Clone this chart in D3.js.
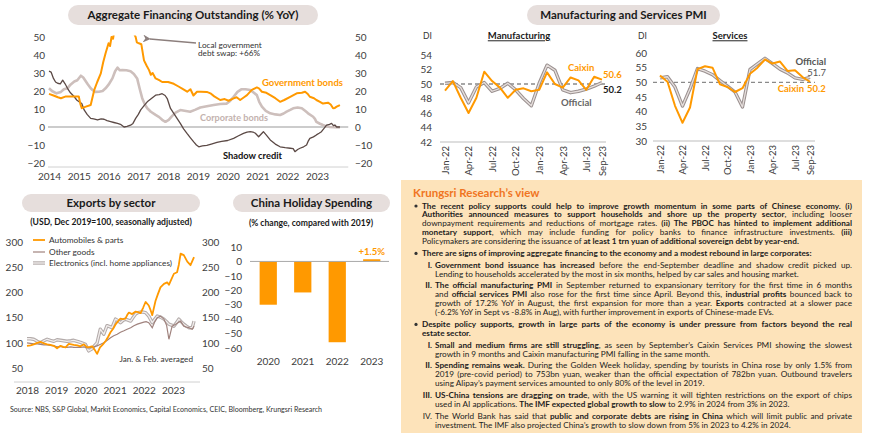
<!DOCTYPE html>
<html>
<head>
<meta charset="utf-8">
<script src="https://cdn.jsdelivr.net/npm/d3@7"></script>
<style>
body{margin:0;background:#fff;}
svg{font-family:Lato,"Open Sans",sans-serif;}
</style>
</head>
<body>
<svg id="chart" width="870" height="440"></svg>
<script>
var FONT = "Lato, 'Open Sans', sans-serif";
var ORANGE = "#ff9900";

// ---- Aggregate financing (% YoY), [year, value]
var aggYears = [2014, 2015, 2016, 2017, 2018, 2019, 2020, 2021, 2022, 2023];
var aggTicks = [-20, -10, 0, 10, 20, 30, 40, 50];
var govBonds = [[2014.0,18.4],[2014.15,17.5],[2014.3,16.5],[2014.4,16],[2014.57,17],[2014.8,17],[2015.0,17],[2015.05,13],[2015.1,10.5],[2015.24,11.3],[2015.4,12.2],[2015.52,20.6],[2015.62,25],[2015.74,29.8],[2015.82,36],[2015.9,41],[2016.0,46.5],[2016.05,45],[2016.1,50],[2016.15,49],[2016.2,54],[2016.4,64],[2016.55,66],[2016.7,62],[2016.85,52],[2016.91,50],[2016.95,47],[2017.02,46.5],[2017.1,46],[2017.19,37],[2017.28,34],[2017.36,31.6],[2017.42,29],[2017.48,30],[2017.58,27],[2017.7,26],[2017.8,25],[2018.0,25],[2018.19,24],[2018.35,22.5],[2018.5,21],[2018.64,19.6],[2018.75,21],[2018.85,17.5],[2018.97,19.6],[2019.1,19.6],[2019.3,19.5],[2019.42,18.7],[2019.55,17],[2019.75,15],[2019.9,15.5],[2020.03,14.6],[2020.2,15.9],[2020.3,16.5],[2020.42,15],[2020.55,16.5],[2020.65,17.7],[2020.81,20.6],[2020.98,22],[2021.05,21.5],[2021.15,19.6],[2021.3,19],[2021.43,17.7],[2021.6,16],[2021.76,14],[2021.9,15],[2022.1,16.8],[2022.32,18.7],[2022.49,19],[2022.6,19.6],[2022.68,18.5],[2022.76,16.8],[2022.9,16],[2022.98,15],[2023.1,14],[2023.2,13],[2023.37,13.5],[2023.46,12.5],[2023.54,10.4],[2023.6,10.6],[2023.66,11.3],[2023.77,12.2]];
var corpBonds = [[2014.0,21.5],[2014.1,20],[2014.25,18.7],[2014.4,19.5],[2014.5,21],[2014.62,21.5],[2014.72,23.5],[2014.85,25.3],[2014.95,26],[2015.07,28.5],[2015.15,27.5],[2015.29,24],[2015.4,21.5],[2015.46,20.6],[2015.55,19.5],[2015.68,19.6],[2015.8,20],[2015.9,21.5],[2016.0,23.5],[2016.13,27],[2016.22,31],[2016.3,33],[2016.38,31.5],[2016.46,31.6],[2016.6,31.5],[2016.74,31],[2016.85,29.5],[2016.96,27],[2017.05,21],[2017.13,16],[2017.22,12.5],[2017.3,10.4],[2017.42,8.5],[2017.58,6.7],[2017.7,5.5],[2017.8,4],[2017.91,2.9],[2018.02,4],[2018.13,6],[2018.25,8],[2018.41,9.4],[2018.55,9],[2018.74,8.5],[2018.9,9.5],[2019.08,10.8],[2019.3,11.5],[2019.53,12.2],[2019.75,12.8],[2019.97,13],[2020.08,14.5],[2020.2,16.8],[2020.33,19.5],[2020.47,21],[2020.6,21],[2020.76,20.6],[2020.88,19],[2020.98,17.7],[2021.06,14],[2021.15,11.3],[2021.28,9],[2021.43,7.6],[2021.6,7],[2021.76,6.7],[2021.88,7.5],[2021.98,8.5],[2022.1,9.5],[2022.2,10.4],[2022.35,10.8],[2022.49,10.4],[2022.6,9],[2022.7,7.6],[2022.87,5.7],[2022.93,4.5],[2022.98,2.9],[2023.1,1.8],[2023.2,1.1],[2023.3,0.5],[2023.43,0],[2023.6,-0.1],[2023.77,-0.2]];
var shadowCredit = [[2014.0,31],[2014.07,30.5],[2014.15,27],[2014.22,25],[2014.29,24.3],[2014.38,24],[2014.46,26],[2014.54,24],[2014.62,21.5],[2014.72,19],[2014.85,16.8],[2014.93,15],[2015.01,14],[2015.1,13],[2015.18,9.5],[2015.28,7],[2015.4,4.8],[2015.5,4.5],[2015.63,3.9],[2015.75,4.5],[2015.85,4.3],[2015.95,3.5],[2016.07,3],[2016.18,2.5],[2016.3,2],[2016.4,1.5],[2016.52,0],[2016.62,0.3],[2016.74,1],[2016.82,2],[2016.91,4.8],[2017.0,7],[2017.08,9.5],[2017.2,12],[2017.3,14],[2017.45,16],[2017.58,17.7],[2017.7,18],[2017.8,18.5],[2017.9,17.5],[2017.97,15.8],[2018.08,10.3],[2018.25,6],[2018.41,2],[2018.52,-1],[2018.64,-3.7],[2018.75,-6],[2018.86,-8.3],[2018.95,-10],[2019.03,-11],[2019.15,-10.5],[2019.3,-10.2],[2019.45,-9.5],[2019.64,-8.6],[2019.8,-8],[2020.0,-7.5],[2020.2,-6.3],[2020.35,-5],[2020.53,-3.5],[2020.65,-2.8],[2020.76,-2.6],[2020.85,-2.8],[2020.93,-3.5],[2021.04,-5.4],[2021.12,-4],[2021.2,-2.6],[2021.3,-4.5],[2021.43,-7.2],[2021.6,-9.5],[2021.76,-11],[2021.93,-11.5],[2022.1,-11.8],[2022.2,-12],[2022.26,-13.7],[2022.35,-12.5],[2022.43,-11.8],[2022.55,-11],[2022.65,-10],[2022.7,-8],[2022.76,-6.3],[2022.88,-5.5],[2022.98,-4.4],[2023.07,-3.5],[2023.15,-2.6],[2023.25,-0.5],[2023.32,1.1],[2023.42,1.5],[2023.49,2],[2023.55,0.8],[2023.6,1.1],[2023.66,0],[2023.77,0]];

// ---- PMI (DI), Jan-22 .. Sep-23
var pmiMonths = ["Jan-22","Feb-22","Mar-22","Apr-22","May-22","Jun-22","Jul-22","Aug-22","Sep-22","Oct-22","Nov-22","Dec-22","Jan-23","Feb-23","Mar-23","Apr-23","May-23","Jun-23","Jul-23","Aug-23","Sep-23"];
var pmiTicks = ["Jan-22","Apr-22","Jul-22","Oct-22","Jan-23","Apr-23","Jul-23","Sep-23"];
var mfgCaixin   = [49.1,50.4,48.1,46.0,48.1,51.7,50.4,49.5,48.1,49.2,49.4,49.0,49.2,51.6,50.0,49.5,50.9,50.5,49.2,51.0,50.6];
var mfgOfficial = [50.1,50.2,49.5,47.4,49.6,50.2,49.0,49.4,50.1,49.2,48.0,47.0,50.1,52.6,51.9,49.2,48.8,49.0,49.3,49.7,50.2];
var svcCaixin   = [52.3,50.2,42.0,36.2,41.4,54.5,55.5,55.0,49.3,48.4,46.7,48.0,52.9,55.0,57.8,56.4,57.1,53.9,54.1,51.8,50.2];
var svcOfficial = [51.5,51.9,48.4,41.9,47.8,54.7,53.8,52.6,50.6,48.7,46.7,41.6,54.4,56.3,58.2,56.4,54.5,53.2,51.5,51.0,51.7];
var mfgTicks = [42,44,46,48,50,52,54];
var svcTicks = [30,35,40,45,50,55,60];

// ---- Exports by sector (USD, Dec 2019=100), [year, index]
var expYears = [2018, 2019, 2020, 2021, 2022, 2023];
var expTicks = [50, 100, 150, 200, 250, 300];
var autoParts = [[2018.0,94],[2018.12,95],[2018.23,97],[2018.35,100],[2018.46,102],[2018.58,99],[2018.69,97],[2018.8,96],[2018.92,94],[2019.03,89],[2019.15,94],[2019.24,92],[2019.32,91],[2019.43,98],[2019.52,97],[2019.6,96],[2019.72,95],[2019.83,93],[2019.95,97],[2020.06,91],[2020.15,92],[2020.23,93],[2020.32,86],[2020.4,78],[2020.5,91],[2020.6,97],[2020.7,104],[2020.78,112],[2020.86,121],[2020.95,128],[2021.04,137],[2021.12,143],[2021.2,148],[2021.28,147],[2021.37,148],[2021.43,155],[2021.49,160],[2021.6,157],[2021.72,162],[2021.8,161],[2021.89,159],[2021.98,170],[2022.06,181],[2022.17,174],[2022.23,165],[2022.29,155],[2022.4,183],[2022.48,196],[2022.57,210],[2022.69,217],[2022.8,220],[2022.86,215],[2022.92,223],[2023.03,237],[2023.14,240],[2023.2,255],[2023.26,277],[2023.37,274],[2023.49,261],[2023.6,254],[2023.72,270]];
var otherGoods = [[2018.0,100],[2018.12,99],[2018.23,98],[2018.35,98],[2018.46,97],[2018.58,96],[2018.69,96],[2018.8,95],[2018.92,94],[2019.03,92],[2019.15,93],[2019.26,91],[2019.37,91],[2019.5,92],[2019.6,91],[2019.72,91],[2019.83,91],[2019.95,92],[2020.06,90],[2020.17,91],[2020.28,92],[2020.4,94],[2020.52,97],[2020.63,100],[2020.75,105],[2020.86,110],[2020.97,114],[2021.09,117],[2021.2,121],[2021.32,124],[2021.43,127],[2021.55,130],[2021.66,134],[2021.78,137],[2021.89,139],[2022.0,141],[2022.08,142],[2022.17,140],[2022.29,130],[2022.38,142],[2022.46,150],[2022.57,153],[2022.69,147],[2022.78,135],[2022.86,107],[2022.97,133],[2023.09,137],[2023.17,140],[2023.26,143],[2023.37,133],[2023.46,131],[2023.54,130],[2023.66,127],[2023.72,133]];
var electronics = [[2018.0,108],[2018.12,108],[2018.23,107],[2018.35,103],[2018.46,100],[2018.58,104],[2018.69,107],[2018.8,105],[2018.92,103],[2019.03,106],[2019.15,105],[2019.26,104],[2019.37,103],[2019.5,104],[2019.6,105],[2019.72,103],[2019.83,101],[2019.92,99],[2020.0,97],[2020.11,84],[2020.23,88],[2020.32,95],[2020.4,100],[2020.51,127],[2020.63,117],[2020.74,134],[2020.83,132],[2020.91,130],[2021.03,147],[2021.12,144],[2021.2,140],[2021.3,145],[2021.37,147],[2021.46,145],[2021.55,143],[2021.63,150],[2021.72,157],[2021.8,160],[2021.89,161],[2021.98,161],[2022.06,160],[2022.17,153],[2022.29,140],[2022.38,147],[2022.46,153],[2022.57,151],[2022.69,147],[2022.78,142],[2022.86,137],[2022.95,135],[2023.03,133],[2023.12,140],[2023.2,147],[2023.28,142],[2023.37,137],[2023.46,133],[2023.54,130],[2023.66,130],[2023.72,143]];

// ---- Holiday spending (% change vs 2019)
var holYears = ["2020", "2021", "2022", "2023"];
var holValues = [-30, -21.5, -56, 1.5];
var holTicks = [-60, -50, -40, -30, -20, -10, 0, 10];

// ---- Krungsri Research's view (b = bold, r = regular)
var viewParas = [
  {mark: "dot", lines: [
    [["b","The recent policy supports could help to improve growth momentum in some parts of Chinese economy. (i)"]],
    [["b","Authorities announced measures to support households and shore up the property sector"],["r",", including looser"]],
    [["r","downpayment requirements and reductions of mortgage rates. "],["b","(ii) The PBOC has hinted to implement additional"]],
    [["b","monetary support"],["r",", which may include funding for policy banks to finance infrastructure investments. "],["b","(iii)"]],
    [["r","Policymakers are considering the issuance of "],["b","at least 1 trn yuan of additional sovereign debt by year-end."]]
  ]},
  {mark: "dot", lines: [
    [["b","There are signs of improving aggregate financing to the economy and a modest rebound in large corporates:"]]
  ]},
  {mark: "I.", lines: [
    [["b","Government bond issuance has increased"],["r"," before the end-September deadline and shadow credit picked up."]],
    [["r","Lending to households accelerated by the most in six months, helped by car sales and housing market."]]
  ]},
  {mark: "II.", lines: [
    [["b","The official manufacturing PMI"],["r"," in September returned to expansionary territory for the first time in 6 months"]],
    [["r","and "],["b","official services PMI"],["r"," also rose for the first time since April. Beyond this, "],["b","industrial profits"],["r"," bounced back to"]],
    [["r","growth of 17.2% YoY in August, the first expansion for more than a year. "],["b","Exports"],["r"," contracted at a slower pace"]],
    [["r","(-6.2% YoY in Sept vs -8.8% in Aug), with further improvement in exports of Chinese-made EVs."]]
  ]},
  {mark: "dot", lines: [
    [["b","Despite policy supports, growth in large parts of the economy is under pressure from factors beyond the real"]],
    [["b","estate sector."]]
  ]},
  {mark: "I.", lines: [
    [["b","Small and medium firms are still struggling"],["r",", as seen by September\u2019s Caixin Services PMI showing the slowest"]],
    [["r","growth in 9 months and Caixin manufacturing PMI falling in the same month."]]
  ]},
  {mark: "II.", lines: [
    [["b","Spending remains weak."],["r"," During the Golden Week holiday, spending by tourists in China rose by only 1.5% from"]],
    [["r","2019 (pre-covid period) to 753bn yuan, weaker than the official expectation of 782bn yuan. Outbound travelers"]],
    [["r","using Alipay\u2019s payment services amounted to only 80% of the level in 2019."]]
  ]},
  {mark: "III.", lines: [
    [["b","US-China tensions are dragging on trade"],["r",", with the US warning it will tighten restrictions on the export of chips"]],
    [["r","used in AI applications. "],["b","The IMF expected global growth to slow"],["r"," to 2.9% in 2024 from 3% in 2023."]]
  ]},
  {mark: "IV.", lines: [
    [["r","The World Bank has said that "],["b","public and corporate debts are rising in China"],["r"," which will limit public and private"]],
    [["r","investment. The IMF also projected China\u2019s growth to slow down from 5% in 2023 to 4.2% in 2024."]]
  ]}
];

var svg = d3.select("#chart");
var defs = svg.append("defs");

function pill(x0, x1, y0, y1, label) {
  svg.append("rect").attr("x", x0).attr("y", y0).attr("width", x1 - x0).attr("height", y1 - y0)
    .attr("rx", (y1 - y0) / 2).attr("fill", "#e6dedc");
  svg.append("text").attr("x", (x0 + x1) / 2).attr("y", (y0 + y1) / 2).attr("dy", "0.36em")
    .attr("text-anchor", "middle").attr("font-size", 11.5).attr("font-weight", 700)
    .attr("fill", "#1a1a1a").text(label);
}

function styleAxis(sel, size) {
  sel.attr("font-family", FONT).attr("font-size", size || 10);
  sel.select(".domain").remove();
  sel.selectAll("text").attr("fill", "#404040");
}

function label(x, y, txt, color, size, weight, anchor) {
  return svg.append("text").attr("x", x).attr("y", y).attr("dy", "0.35em")
    .attr("fill", color).attr("font-size", size).attr("font-weight", weight || 400)
    .attr("text-anchor", anchor || "start").text(txt);
}

function doubleLine(g, path, data, outer, inner) {
  g.append("path").datum(data).attr("d", path).attr("fill", "none")
    .attr("stroke", outer || "#9b9190").attr("stroke-width", 3.4).attr("stroke-linejoin", "round");
  g.append("path").datum(data).attr("d", path).attr("fill", "none")
    .attr("stroke", inner || "#e6dfdd").attr("stroke-width", 1.3).attr("stroke-linejoin", "round");
}

/********** Aggregate financing outstanding **********/
function drawAggregate() {
  pill(68, 318, 5, 25, "Aggregate Financing Outstanding (% YoY)");
  var x = d3.scaleLinear().domain([2014, 2023]).range([49, 317]);
  var y = d3.scaleLinear().domain([-20, 50]).range([163, 37]);
  var g = svg.append("g");

  defs.append("clipPath").attr("id", "clipAgg").append("rect")
    .attr("x", 40).attr("y", y(50.8)).attr("width", 320).attr("height", 140);

  g.append("g").attr("transform", "translate(45,0)")
    .call(d3.axisLeft(y).tickValues(aggTicks).tickSize(0).tickPadding(0)).call(styleAxis, 10);
  g.append("g").attr("transform", "translate(355,0)")
    .call(d3.axisRight(y).tickValues(aggTicks).tickSize(0).tickPadding(0)).call(styleAxis, 10);
  g.append("g").attr("transform", "translate(0,167)")
    .call(d3.axisBottom(x).tickValues(aggYears).tickFormat(d3.format("d")).tickSize(0).tickPadding(6))
    .call(styleAxis, 10);

  g.append("line").attr("x1", x(2014) - 1).attr("x2", x(2024.05)).attr("y1", 167).attr("y2", 167)
    .attr("stroke", "#d0d0d0");
  g.append("line").attr("x1", x(2014) - 1).attr("x2", x(2024.05)).attr("y1", y(0)).attr("y2", y(0))
    .attr("stroke", "#9a9a9a").attr("stroke-width", 1.1);

  var line = d3.line().x(function(d){ return x(d[0]); }).y(function(d){ return y(d[1]); });
  var lines = g.append("g").attr("clip-path", "url(#clipAgg)");
  lines.append("path").datum(corpBonds).attr("d", line).attr("fill", "none")
    .attr("stroke", "#cdbfbc").attr("stroke-width", 2.6).attr("stroke-linejoin", "round");
  lines.append("path").datum(shadowCredit).attr("d", line).attr("fill", "none")
    .attr("stroke", "#5b4945").attr("stroke-width", 1.3).attr("stroke-linejoin", "round");
  lines.append("path").datum(govBonds).attr("d", line).attr("fill", "none")
    .attr("stroke", ORANGE).attr("stroke-width", 2).attr("stroke-linejoin", "round");

  // annotation arrow
  var mk = defs.append("marker").attr("id", "arrowHead").attr("viewBox", "0 0 10 10")
    .attr("refX", 1).attr("refY", 5).attr("markerWidth", 6).attr("markerHeight", 6).attr("orient", "auto");
  mk.append("path").attr("d", "M0,5 L10,0 L7,5 L10,10 Z").attr("fill", "#8c7f7d");
  g.append("line").attr("x1", 196).attr("y1", 43).attr("x2", 150).attr("y2", 39)
    .attr("stroke", "#8c7f7d").attr("stroke-width", 1.3).attr("marker-end", "url(#arrowHead)");
  label(198, 45, "Local government", "#333", 8.2);
  label(198, 53.5, "debt swap: +66%", "#333", 8.2);

  label(262, 82, "Government bonds", ORANGE, 10, 700).attr("textLength", 81).attr("lengthAdjust", "spacingAndGlyphs");
  label(200, 118, "Corporate bonds", "#c3b2ae", 9.5, 700).attr("textLength", 68).attr("lengthAdjust", "spacingAndGlyphs");
  label(223, 156, "Shadow credit", "#111", 9.5, 700).attr("textLength", 59).attr("lengthAdjust", "spacingAndGlyphs");
}

/********** PMI panels **********/
function drawPmi(opt) {
  var x = d3.scalePoint().domain(pmiMonths).range([opt.x0, opt.x1]);
  var y = d3.scaleLinear().domain(opt.domain).range([opt.yb, opt.yt]);
  var g = svg.append("g");

  label(opt.diX, 36, "DI", "#333", 8.5);
  label((opt.ax0 + opt.ax1) / 2 - 4, 36, opt.title, "#1a1a1a", 9.5, 700, "middle")
    .attr("text-decoration", "underline");

  g.append("g").attr("transform", "translate(" + opt.labR + ",0)")
    .call(d3.axisLeft(y).tickValues(opt.ticks).tickSize(0).tickPadding(0)).call(styleAxis, 10);

  var xa = g.append("g").attr("transform", "translate(0," + opt.yb + ")")
    .call(d3.axisBottom(x).tickValues(pmiTicks).tickSize(0)).call(styleAxis, 9.5);
  xa.selectAll("text").attr("transform", "rotate(-90)").attr("text-anchor", "end")
    .attr("x", -4).attr("y", 0).attr("dy", "0.35em");

  g.append("line").attr("x1", opt.ax0).attr("x2", opt.ax1).attr("y1", opt.yb).attr("y2", opt.yb)
    .attr("stroke", "#bdbdbd");
  g.append("line").attr("x1", opt.ax0).attr("x2", opt.ax1).attr("y1", y(50)).attr("y2", y(50))
    .attr("stroke", "#8a8a8a").attr("stroke-width", 1.3).attr("stroke-dasharray", "4,3");

  var line = d3.line().x(function(d, i){ return x(pmiMonths[i]); }).y(function(d){ return y(d); });
  doubleLine(g, line, opt.official);
  g.append("path").datum(opt.caixin).attr("d", line).attr("fill", "none")
    .attr("stroke", ORANGE).attr("stroke-width", 2).attr("stroke-linejoin", "round");
}

function drawPmiPanels() {
  pill(527, 720, 5, 25, "Manufacturing and Services PMI");
  drawPmi({x0: 445, x1: 602, ax0: 440, ax1: 606, yb: 142, yt: 55, domain: [42, 54],
    ticks: mfgTicks, labR: 432, diX: 423, title: "Manufacturing",
    official: mfgOfficial, caixin: mfgCaixin});
  label(568, 68, "Caixin", ORANGE, 9.5, 700);
  label(603, 75, "50.6", ORANGE, 9.5, 700);
  label(603, 90, "50.2", "#1a1a1a", 9.5, 700);
  label(561, 103, "Official", "#666", 9.5, 700);

  drawPmi({x0: 660, x1: 810, ax0: 653, ax1: 815, yb: 141, yt: 53, domain: [30, 60],
    ticks: svcTicks, labR: 647, diX: 638, title: "Services",
    official: svcOfficial, caixin: svcCaixin});
  label(826, 62, "Official", "#555", 9.5, 700, "end");
  label(826, 73, "51.7", "#555", 9.5, 400, "end");
  label(804, 89, "Caixin", ORANGE, 9.5, 700, "end");
  label(807, 89, "50.2", ORANGE, 9.5, 700);
}

/********** Exports by sector **********/
function drawExports() {
  pill(22, 200, 194, 212, "Exports by sector");
  label(111, 222, "(USD, Dec 2019=100, seasonally adjusted)", "#1a1a1a", 8.6, 700, "middle");
  var x = d3.scaleLinear().domain([2018, 2023]).range([27, 173]);
  var y = d3.scaleLinear().domain([50, 300]).range([368, 242]);
  var g = svg.append("g");

  g.append("g").attr("transform", "translate(23,0)")
    .call(d3.axisLeft(y).tickValues(expTicks).tickSize(0).tickPadding(0)).call(styleAxis, 10);
  g.append("g").attr("transform", "translate(202,0)")
    .call(d3.axisRight(y).tickValues(expTicks).tickSize(0).tickPadding(0)).call(styleAxis, 10);
  g.append("g").attr("transform", "translate(0,382)")
    .call(d3.axisBottom(x).tickValues(expYears).tickFormat(d3.format("d")).tickSize(0).tickPadding(5))
    .call(styleAxis, 10);
  g.append("line").attr("x1", 14).attr("x2", 200).attr("y1", 382).attr("y2", 382).attr("stroke", "#d0d0d0");

  var line = d3.line().x(function(d){ return x(d[0]); }).y(function(d){ return y(d[1]); });
  doubleLine(g, line, electronics, "#b3abaa", "#f2eeed");
  g.append("path").datum(otherGoods).attr("d", line).attr("fill", "none")
    .attr("stroke", "#a0837e").attr("stroke-width", 1.2);
  g.append("path").datum(autoParts).attr("d", line).attr("fill", "none")
    .attr("stroke", ORANGE).attr("stroke-width", 1.8).attr("stroke-linejoin", "round");

  // legend
  var lg = svg.append("g");
  var leg = d3.line();
  lg.append("path").datum([[33, 240], [45, 240]]).attr("d", leg).attr("stroke", ORANGE).attr("stroke-width", 1.8);
  lg.append("path").datum([[33, 252], [45, 252]]).attr("d", leg).attr("stroke", "#a0837e").attr("stroke-width", 1.2);
  doubleLine(lg, leg, [[33, 263], [45, 263]], "#b3abaa", "#f2eeed");
  label(49, 240, "Automobiles & parts", "#333", 8.3);
  label(49, 252, "Other goods", "#333", 8.3);
  label(49, 263, "Electronics (incl. home appliances)", "#333", 8.3).attr("textLength", 123).attr("lengthAdjust", "spacingAndGlyphs");
  label(193, 359, "Jan. & Feb. averaged", "#333", 8.2, 400, "end");
}

/********** China holiday spending **********/
function drawHoliday() {
  pill(233, 390, 194, 212, "China Holiday Spending");
  label(311, 223, "(% change, compared with 2019)", "#1a1a1a", 8.6, 700, "middle");
  var x = d3.scaleBand().domain(holYears).range([251, 389]).paddingInner(0.5).paddingOuter(0.25);
  var y = d3.scaleLinear().domain([-60, 10]).range([348, 247]);
  var g = svg.append("g");

  g.append("g").attr("transform", "translate(242,0)")
    .call(d3.axisLeft(y).tickValues(holTicks).tickSize(0).tickPadding(0)).call(styleAxis, 10);

  g.selectAll("rect.bar").data(holValues).enter().append("rect").attr("class", "bar")
    .attr("x", function(d, i){ return x(holYears[i]); })
    .attr("width", x.bandwidth())
    .attr("y", function(d){ return y(Math.max(0, d)); })
    .attr("height", function(d){ return Math.abs(y(d) - y(0)); })
    .attr("fill", ORANGE);

  g.append("line").attr("x1", 250).attr("x2", 389).attr("y1", y(0)).attr("y2", y(0))
    .attr("stroke", "#a8a8a8");

  g.selectAll("text.cat").data(holYears).enter().append("text").attr("class", "cat")
    .attr("x", function(d){ return x(d) + x.bandwidth() / 2; }).attr("y", 361).attr("dy", "0.35em")
    .attr("text-anchor", "middle").attr("font-size", 10).attr("fill", "#404040").text(function(d){ return d; });

  label(x("2023") + x.bandwidth() / 2, y(holValues[3]) - 8, "+1.5%", ORANGE, 9.5, 700, "middle");
}

/********** Text box **********/
function drawView() {
  svg.append("rect").attr("x", 401).attr("y", 180).attr("width", 461).attr("height", 253).attr("fill", "#fde3ba");
  label(413, 193, "Krungsri Research\u2019s view", "#f07522", 11.5, 700);

  var box = svg.append("g").attr("fill", "#1c1c1c");
  var right = 852, fs = 8.2;
  var ty = 205.7;
  viewParas.forEach(function(p, pi) {
    if (pi > 0) ty += 11.8;
    var tx = p.mark == "dot" ? 422 : 435;
    if (p.mark == "dot") {
      box.append("circle").attr("cx", 416).attr("cy", ty + 0.3).attr("r", 1.6).attr("fill", "#333");
    } else {
      box.append("text").attr("x", 432).attr("y", ty).attr("dy", "0.35em").attr("text-anchor", "end")
        .attr("font-size", fs).attr("font-weight", p.mark == "IV." ? 400 : 700).text(p.mark);
    }
    p.lines.forEach(function(ln, li) {
      if (li > 0) ty += 8.9;
      var t = box.append("text").attr("x", tx).attr("y", ty).attr("dy", "0.35em").attr("font-size", fs);
      ln.forEach(function(seg) {
        t.append("tspan").attr("font-weight", seg[0] == "b" ? 700 : 400).text(seg[1]);
      });
      var last = li == p.lines.length - 1;
      var w = t.node().getComputedTextLength();
      var room = right - tx;
      var spaces = ln.map(function(s){ return s[1]; }).join("").split(" ").length - 1;
      if (w > room) {
        // squeeze a long line horizontally into the column
        t.attr("transform", "translate(" + tx + ",0) scale(" + (room / w).toFixed(4) + ",1) translate(" + (-tx) + ",0)");
      } else if (!last) {
        t.attr("word-spacing", ((room - w) / Math.max(1, spaces)).toFixed(2));
      }
    });
  });
}

drawAggregate();
drawPmiPanels();
drawExports();
drawHoliday();
drawView();

svg.append("text").attr("x", 10).attr("y", 410).attr("dy", "0.35em").attr("font-size", 7.1).attr("fill", "#333")
  .text("Source: NBS, S&P Global, Markit Economics, Capital Economics, CEIC, Bloomberg, Krungsri Research");
</script>
</body>
</html>
